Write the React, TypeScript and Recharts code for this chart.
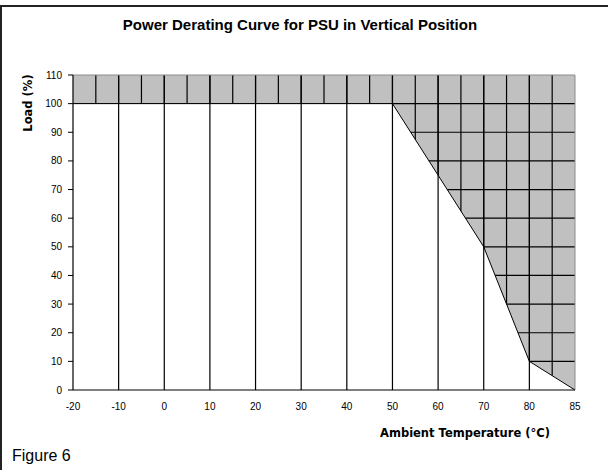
import React from "react";
import {
  ComposedChart,
  Area,
  XAxis,
  YAxis,
  CartesianGrid,
  ReferenceLine,
} from "recharts";

// ambient temperature categories (°C) and allowed load (%)
const temps = [-20, -10, 0, 10, 20, 30, 40, 50, 60, 70, 80, 85];
const loads = [100, 100, 100, 100, 100, 100, 100, 100, 75, 50, 10, 0];
const loadTicks = [0, 10, 20, 30, 40, 50, 60, 70, 80, 90, 100, 110];

const data = temps.map((t, i) => ({ pos: i, temp: t, load: loads[i] }));

// category positions plus the half steps between them (minor gridlines)
const last = temps.length - 1;
const posTicks = temps.flatMap((_, i) => (i === last ? [i] : [i, i + 0.5]));
const minorX = posTicks.filter((p) => p > 0 && p < last);
const majorX = temps.map((_, i) => i).filter((p) => p > 0 && p < last);
const innerY = loadTicks.filter((v) => v > 0 && v < 110);

const tickFont = {
  fontFamily: "'Liberation Sans Narrow', 'Arial Narrow', Arial, sans-serif",
  fontSize: 10,
  fill: "#000",
};
const labelFont = "'DejaVu Sans', Verdana, sans-serif";

export default function App() {
  return (
    <div
      style={{
        position: "absolute",
        left: 0,
        top: 0,
        width: 608,
        height: 470,
        background: "#fff",
      }}
    >
      <ComposedChart
        width={608}
        height={470}
        data={data}
        margin={{ top: 75, right: 33, bottom: 50, left: 13 }}
      >
        <CartesianGrid
          fill="#c0c0c0"
          fillOpacity={1}
          stroke="#000"
          strokeWidth={1.2}
          verticalValues={minorX}
          horizontalValues={innerY}
        />
        <XAxis
          type="number"
          dataKey="pos"
          domain={[0, last]}
          ticks={posTicks}
          interval={0}
          tickFormatter={(v: number) => (Number.isInteger(v) ? String(temps[v]) : "")}
          tickLine={false}
          tickSize={5}
          tickMargin={8}
          axisLine={{ stroke: "#000", strokeWidth: 1.2 }}
          tick={tickFont}
          height={30}
        />
        <YAxis
          type="number"
          domain={[0, 110]}
          ticks={loadTicks}
          interval={0}
          tickSize={5}
          tickMargin={6}
          axisLine={{ stroke: "#000", strokeWidth: 1.2 }}
          tickLine={{ stroke: "#000" }}
          tick={tickFont}
          width={60}
        />
        <YAxis
          yAxisId="stub"
          type="number"
          orientation="left"
          mirror
          domain={[0, 110]}
          ticks={loadTicks}
          interval={0}
          width={0}
          tickSize={3}
          axisLine={false}
          tickLine={{ stroke: "#000" }}
          tick={() => <g />}
        />
        <Area
          type="linear"
          dataKey="load"
          stroke="#000"
          strokeWidth={1}
          fill="#fff"
          fillOpacity={1}
          dot={false}
          activeDot={false}
          isAnimationActive={false}
        />
        {majorX.map((p) => (
          <ReferenceLine key={p} x={p} stroke="#000" strokeWidth={1.2} />
        ))}
        <ReferenceLine y={110} stroke="#8c8c8c" />
        <ReferenceLine x={last} stroke="#8c8c8c" />
      </ComposedChart>

      <svg
        width={608}
        height={470}
        style={{ position: "absolute", left: 0, top: 0, pointerEvents: "none" }}
      >
        <line x1={1} y1={5} x2={1} y2={470} stroke="#222" strokeWidth={2} />
        <line x1={0} y1={6} x2={608} y2={6} stroke="#222" strokeWidth={2} />
        <text
          x={300}
          y={30}
          textAnchor="middle"
          fontFamily="Arial, 'Liberation Sans', sans-serif"
          fontWeight="bold"
          fontSize={15}
          fill="#000"
        >
          Power Derating Curve for PSU in Vertical Position
        </text>
        <text
          transform="translate(32,103) rotate(-90)"
          textAnchor="middle"
          fontFamily={labelFont}
          fontWeight="bold"
          fontSize={11.5}
          fill="#000"
        >
          Load (%)
        </text>
        <text
          x={465}
          y={437}
          textAnchor="middle"
          fontFamily={labelFont}
          fontWeight="bold"
          fontSize={11.5}
          fill="#000"
        >
          Ambient Temperature (°C)
        </text>
        <text
          x={12}
          y={461}
          fontFamily="Arial, 'Liberation Sans', sans-serif"
          fontSize={16}
          fill="#000"
        >
          Figure 6
        </text>
      </svg>
    </div>
  );
}
